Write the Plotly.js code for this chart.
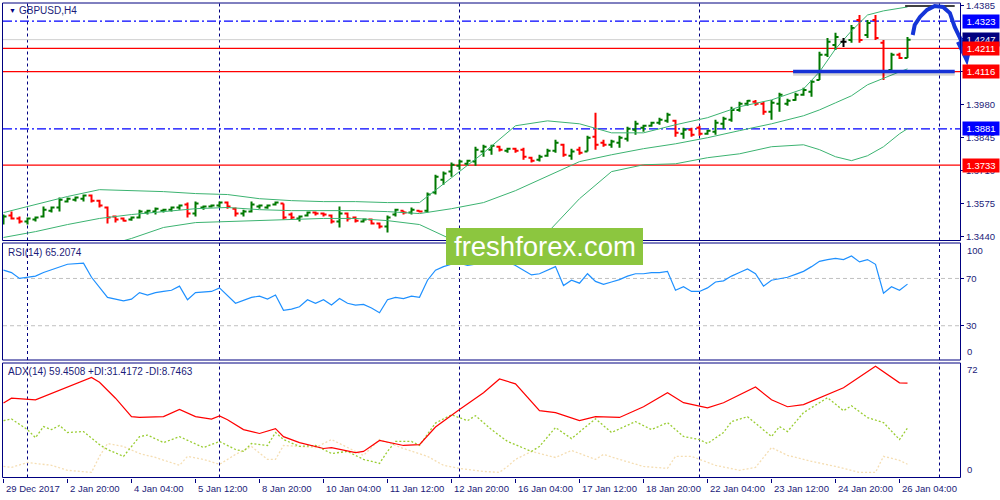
<!DOCTYPE html>
<html><head><meta charset="utf-8">
<script src="https://cdn.plot.ly/plotly-3.0.1.min.js"></script>
<style>html,body{margin:0;padding:0;background:#fff}#chart{width:1000px;height:500px}</style>
</head><body><div id="chart"></div>
<script>
// ---------------- data ----------------
const symbolTitle = 'GBPUSD,H4';
const tickIdx = [0,8,16,24,32,40,48,56,64,72,80,88,96,104,112];
const tickLabels = ['29 Dec 2017','2 Jan 20:00','4 Jan 04:00','5 Jan 12:00','8 Jan 20:00','10 Jan 04:00','11 Jan 12:00','12 Jan 20:00','16 Jan 04:00','17 Jan 12:00','18 Jan 20:00','22 Jan 04:00','23 Jan 12:00','24 Jan 20:00','26 Jan 04:00'];
const separatorIdx = [3,27,57,87,117];

const open = [1.3497,1.3526,1.3514,1.3501,1.3510,1.3522,1.3546,1.3559,1.3583,1.3591,
1.3595,1.3608,1.3587,1.3559,1.3522,1.3514,1.3510,1.3518,1.3538,1.3542,
1.3546,1.3550,1.3559,1.3571,1.3534,1.3559,1.3563,1.3567,1.3579,1.3554,
1.3534,1.3542,1.3563,1.3559,1.3571,1.3575,1.3530,1.3514,1.3526,1.3538,
1.3534,1.3526,1.3501,1.3534,1.3518,1.3501,1.3510,1.3493,1.3481,1.3530,
1.3546,1.3538,1.3546,1.3546,1.3620,1.3673,1.3706,1.3730,1.3738,1.3747,
1.3788,1.3796,1.3808,1.3792,1.3800,1.3796,1.3763,1.3755,1.3771,1.3792,
1.3816,1.3771,1.3796,1.3788,1.3849,1.3824,1.3816,1.3824,1.3841,1.3878,
1.3886,1.3894,1.3906,1.3914,1.3914,1.3861,1.3878,1.3886,1.3861,1.3869,
1.3902,1.3919,1.3959,1.3984,1.3992,1.3984,1.3951,1.3984,1.3984,1.4000,
1.4021,1.4033,1.4082,1.4185,1.4225,1.4238,1.4246,1.4328,1.4266,1.4328,
1.4234,1.4123,1.4185,1.4172];
const high = [1.3530,1.3542,1.3522,1.3518,1.3522,1.3563,1.3563,1.3600,1.3600,1.3604,
1.3612,1.3612,1.3591,1.3563,1.3526,1.3518,1.3522,1.3550,1.3550,1.3559,
1.3554,1.3563,1.3571,1.3579,1.3583,1.3567,1.3571,1.3583,1.3583,1.3559,
1.3550,1.3583,1.3571,1.3571,1.3583,1.3575,1.3538,1.3526,1.3542,1.3542,
1.3538,1.3530,1.3563,1.3538,1.3522,1.3514,1.3514,1.3497,1.3526,1.3554,
1.3546,1.3559,1.3546,1.3620,1.3693,1.3706,1.3743,1.3755,1.3755,1.3808,
1.3816,1.3816,1.3812,1.3804,1.3804,1.3804,1.3767,1.3775,1.3800,1.3837,
1.3820,1.3800,1.3808,1.3853,1.3947,1.3837,1.3837,1.3853,1.3890,1.3914,
1.3898,1.3910,1.3927,1.3947,1.3919,1.3886,1.3886,1.3894,1.3878,1.3919,
1.3931,1.3972,1.3992,1.4000,1.4000,1.3992,1.4000,1.4029,1.4005,1.4029,
1.4050,1.4082,1.4197,1.4254,1.4275,1.4254,1.4307,1.4348,1.4328,1.4348,
1.4246,1.4193,1.4193,1.4258];
const low = [1.3489,1.3510,1.3493,1.3489,1.3501,1.3518,1.3538,1.3542,1.3579,1.3583,
1.3583,1.3579,1.3559,1.3493,1.3497,1.3501,1.3505,1.3514,1.3530,1.3530,
1.3538,1.3542,1.3550,1.3518,1.3522,1.3550,1.3559,1.3559,1.3554,1.3522,
1.3522,1.3538,1.3554,1.3554,1.3567,1.3510,1.3510,1.3501,1.3522,1.3526,
1.3522,1.3493,1.3477,1.3501,1.3497,1.3497,1.3489,1.3473,1.3456,1.3522,
1.3530,1.3530,1.3538,1.3538,1.3612,1.3652,1.3685,1.3714,1.3730,1.3730,
1.3767,1.3775,1.3788,1.3783,1.3783,1.3755,1.3743,1.3747,1.3767,1.3783,
1.3767,1.3755,1.3775,1.3788,1.3796,1.3808,1.3804,1.3804,1.3829,1.3857,
1.3869,1.3890,1.3898,1.3906,1.3849,1.3841,1.3849,1.3853,1.3857,1.3857,
1.3882,1.3910,1.3951,1.3976,1.3976,1.3939,1.3919,1.3951,1.3976,1.3996,
1.4017,1.4013,1.4082,1.4176,1.4205,1.4217,1.4234,1.4234,1.4254,1.4246,
1.4082,1.4115,1.4168,1.4172];
const close = [1.3522,1.3514,1.3501,1.3514,1.3518,1.3550,1.3559,1.3591,1.3595,1.3600,
1.3608,1.3587,1.3567,1.3518,1.3510,1.3505,1.3518,1.3542,1.3546,1.3554,
1.3550,1.3559,1.3567,1.3534,1.3575,1.3563,1.3567,1.3579,1.3563,1.3534,
1.3542,1.3571,1.3567,1.3567,1.3579,1.3518,1.3518,1.3522,1.3538,1.3534,
1.3530,1.3501,1.3534,1.3514,1.3505,1.3510,1.3493,1.3481,1.3518,1.3550,
1.3538,1.3550,1.3542,1.3612,1.3685,1.3698,1.3734,1.3747,1.3751,1.3796,
1.3808,1.3812,1.3796,1.3800,1.3792,1.3767,1.3751,1.3767,1.3792,1.3824,
1.3775,1.3788,1.3783,1.3845,1.3816,1.3816,1.3829,1.3845,1.3882,1.3902,
1.3894,1.3906,1.3919,1.3939,1.3865,1.3878,1.3857,1.3861,1.3874,1.3906,
1.3923,1.3959,1.3984,1.3996,1.3984,1.3951,1.3988,1.4021,1.3996,1.4021,
1.4041,1.4074,1.4185,1.4238,1.4258,1.4238,1.4295,1.4246,1.4315,1.4254,
1.4115,1.4185,1.4172,1.4247];

const bbIdx = [0,4,8,12,16,20,24,28,32,36,40,44,48,52,56,60,64,68,72,76,80,84,88,92,96,100,102,104,106,108,110,112,113];
const bbUpper = [1.3538,1.3571,1.3604,1.3632,1.3628,1.3624,1.3616,1.3612,1.3595,1.3587,1.3583,1.3583,1.3579,1.3579,1.3681,1.3783,1.3894,1.3914,1.3902,1.3865,1.3865,1.3898,1.3927,1.3972,1.4000,1.4045,1.4115,1.4209,1.4283,1.4348,1.4365,1.4377,1.4381];
const bbMiddle = [1.3436,1.3460,1.3489,1.3514,1.3530,1.3542,1.3554,1.3559,1.3550,1.3546,1.3546,1.3546,1.3542,1.3534,1.3554,1.3579,1.3628,1.3689,1.3747,1.3775,1.3800,1.3820,1.3845,1.3874,1.3902,1.3935,1.3959,1.3988,1.4017,1.4062,1.4090,1.4115,1.4127];
const bbLower = [1.3334,1.3350,1.3375,1.3395,1.3432,1.3477,1.3497,1.3501,1.3505,1.3510,1.3514,1.3514,1.3505,1.3489,1.3428,1.3375,1.3362,1.3456,1.3595,1.3706,1.3734,1.3738,1.3763,1.3779,1.3808,1.3816,1.3796,1.3767,1.3751,1.3771,1.3808,1.3861,1.3882];

const rsiIdx = [0,1,2,4,5,7,8,10,11,13,14,15,16,17,18,19,20,21,22,23,24,26,27,29,31,
32,33,34,35,36,37,38,39,40,41,42,43,44,45,46,47,48,49,50,51,52,53,54,55,56,57,58,59,60,61,
62,63,64,65,66,67,68,69,70,71,72,73,74,75,76,77,78,79,80,81,82,83,84,85,86,87,88,89,90,91,
92,93,94,95,96,97,98,99,100,101,102,103,104,105,106,107,108,109,110,111,112,113];
const rsiVal = [77,75,70,72,75,80,82,83,71,54,52.5,51,52.5,58,56,58,59,60,63.5,52,58,59,62,49,54,
55,52.5,56,43,44,46,52,49,52,47.5,53,49,47.5,48,45,41,52,54,53,55,54,68.5,77,80,82,83,81,82,84,84,
83,84,81,77,73,74,77,80,64,68.5,66,74,67.5,65,67,69,72,74,74,75,75,76,60,63,59,59,62,67,68,72,
75,78,74,63.5,68.5,70,71,73.5,76,80,84.5,86,87,86,89,84,86,82,57.5,63,60,65.2];

const adxIdx = [0,1,4,6,8,11,12,14,16,17,20,22,24,26,27,28,30,32,34,35,37,40,41,44,45,47,50,52,54,57,60,62,64,67,69,72,74,77,80,83,85,88,90,94,96,98,100,105,109,112,113];
const adxVal = [47,50,49,53,57,63,60,50,38.5,38,38.5,43,38.5,37,39,36.6,30.4,28,31,26,22.3,18.6,19.2,16.1,16.8,23.6,20.5,21,32,43,53.4,62,59,42.2,41,36,38.5,38,44.7,53.4,47.2,44,47.2,57,49,44.7,46,56.5,70,59.6,59.45];
const pdiIdx = [0,1,3,4,5,6,7,8,10,12,13,15,17,18,20,22,25,27,29,30,31,33,34,35,37,39,41,43,45,47,48,49,51,52,54,56,58,59,61,63,66,67,69,71,74,76,79,81,83,85,87,88,90,91,93,96,97,98,100,102,103,105,106,108,110,112,113];
const pdiVal = [36,37,30.4,25.4,32.3,30.4,33,28.6,29.2,21,18,13.7,26,27,22.3,26,19.2,23,18,16.8,21.7,20.5,28.6,24.2,19.9,20.5,15.5,16.8,11.8,9.3,16.8,23,23,20.5,34.5,39.7,36,39.1,30.4,23,16.8,19.9,31.7,24.8,37.2,28.6,35.4,30.4,34.8,26.1,24.2,21.7,28.6,35.4,38.5,26.1,32.3,29.2,41,47.2,50.3,42.2,45.3,37.9,34.8,24.2,31.4];
const mdiIdx = [0,1,3,6,8,11,12,13,15,17,19,22,23,25,27,29,31,33,34,35,37,39,41,43,45,47,48,50,53,55,57,60,62,63,64,66,69,71,74,75,77,80,83,84,86,89,92,94,96,98,101,104,107,109,110,112,113];
const mdiVal = [7.4,6.8,9.9,8.1,5,3.7,13.7,21.7,19.9,15.5,13,8.1,13.7,11.8,8.7,14.9,19.9,11.8,11.8,20.5,19.9,19.2,24.2,19.2,14.3,24.2,22.3,18.6,13.7,8.1,6.2,4.3,3.7,7.4,11.8,16.8,13,17.4,11.8,14.9,11.8,7.4,6.2,13.7,13.7,8.1,5,6.8,19.2,14.3,10.6,7.4,3.7,3.7,13.7,11.2,8.75];

const priceTicks = [1.3440,1.3575,1.3710,1.3845,1.3980,1.4115,1.4250,1.4385];
const levelPrices = [1.4323,1.4247,1.4211,1.4116,1.3881,1.3733];
const levelKinds  = ['blueDash','bid','red','red','blueDash','red'];
const labelPrices = [1.4323,1.4247,1.4211,1.4116,1.3881,1.3733];
const labelColors = ['#0000ff','#000080','#ff0000','#ff0000','#0000ff','#ff0000'];
const rsiLevels = [30,70];
const supportLine = {from:98.7, to:118.9, price:1.4116};
const topLine = {from:112.7, to:118.9, price:1.4385};
const arrowCurve = [[113.65,1.4266],[113.9,1.4307],[114.56,1.4340],[115.44,1.4369],[116.4,1.4385],[117.44,1.4381],[118.3,1.4356],[118.9,1.4299],[119.56,1.4254],[120.2,1.4205],[120.4,1.4168]];
const arrowHead = [[119.3,1.4238],[120.4,1.4164],[120.9,1.4230]];
const rsiText = 'RSI(14) 65.2074';
const adxText = 'ADX(14) 59.4508 +DI:31.4172 -DI:8.7463';
const watermark = 'freshforex.com';

// ---------------- layout geometry ----------------
const W=1000,H=500, ML=3, MR=40, MT=3, MB=22;
const PW=W-ML-MR, PH=H-MT-MB;
const pxX = x => (x-ML)/PW;
const pxY = y => (H-MB-y)/PH;
const xRange = [-0.0625, -0.0625 + PW/8];
const mainDom = [pxY(240.5), pxY(3)], rsiDom = [pxY(360), pxY(243)], adxDom = [pxY(477.5), pxY(363)];
const mainRange = [1.342359, 1.439723];
const rsiRange = [1, 100];
const adxRange = [0.5, 72];
const NAVY = '#000080', TXT = '#1b1b78';
const FONT = 'Liberation Sans, Arial, sans-serif';
const idxToPaper = i => (i - xRange[0])/(xRange[1]-xRange[0]);
const priceToPaper = p => mainDom[0] + (p-mainRange[0])/(mainRange[1]-mainRange[0])*(mainDom[1]-mainDom[0]);

// ---------------- traces ----------------
const traces = [];
const bx=[],bo=[],bh=[],bl=[],bc=[], dx=[], dy=[];
for (let i=0;i<open.length;i++){
  if (open[i]===close[i]) {
    dx.push(i-0.38,i,null,i,i,null,i,i+0.38,null);
    dy.push(open[i],open[i],null,high[i],low[i],null,close[i],close[i],null);
  } else { bx.push(i); bo.push(open[i]); bh.push(high[i]); bl.push(low[i]); bc.push(close[i]); }
}
traces.push({type:'scatter',mode:'lines',x:bbIdx,y:bbUpper,line:{color:'#3cb371',width:1},hoverinfo:'skip',xaxis:'x',yaxis:'y'});
traces.push({type:'scatter',mode:'lines',x:bbIdx,y:bbMiddle,line:{color:'#3cb371',width:1},hoverinfo:'skip',xaxis:'x',yaxis:'y'});
traces.push({type:'scatter',mode:'lines',x:bbIdx,y:bbLower,line:{color:'#3cb371',width:1},hoverinfo:'skip',xaxis:'x',yaxis:'y'});
traces.push({type:'ohlc',x:bx,open:bo,high:bh,low:bl,close:bc,tickwidth:0.38,
  increasing:{line:{color:'#007800',width:2}},decreasing:{line:{color:'#ff0000',width:2}},
  hoverinfo:'skip',xaxis:'x',yaxis:'y'});
traces.push({type:'scatter',mode:'lines',x:dx,y:dy,line:{color:'#000000',width:2},hoverinfo:'skip',xaxis:'x',yaxis:'y'});
traces.push({type:'scatter',mode:'lines',x:rsiIdx,y:rsiVal,line:{color:'#1e90ff',width:1.2},hoverinfo:'skip',xaxis:'x',yaxis:'y2'});
traces.push({type:'scatter',mode:'lines',x:mdiIdx,y:mdiVal,line:{color:'#f5deb3',width:1.3,dash:'2px,2px'},hoverinfo:'skip',xaxis:'x',yaxis:'y3'});
traces.push({type:'scatter',mode:'lines',x:pdiIdx,y:pdiVal,line:{color:'#9acd32',width:1.3,dash:'2px,2px'},hoverinfo:'skip',xaxis:'x',yaxis:'y3'});
traces.push({type:'scatter',mode:'lines',x:adxIdx,y:adxVal,line:{color:'#ff0000',width:1.2},hoverinfo:'skip',xaxis:'x',yaxis:'y3'});

// ---------------- shapes ----------------
const shapes = [];
['y','y2','y3'].forEach(ax=>{
  separatorIdx.forEach(s=>shapes.push({type:'line',xref:'x',yref:ax+' domain',x0:s,x1:s,y0:0,y1:1,layer:'below',line:{color:NAVY,width:1,dash:'3px,3px'}}));
});
levelPrices.forEach((p,k)=>{
  const kind=levelKinds[k];
  let line;
  if(kind==='blueDash') line={color:'#0000ff',width:1.2,dash:'9px,3px,2px,3px'};
  else if(kind==='bid') line={color:'#d0d0d0',width:1};
  else line={color:'#ff0000',width:1.2};
  shapes.push({type:'line',xref:'x domain',yref:'y',x0:0,x1:1,y0:p,y1:p,layer:'below',line});
});
rsiLevels.forEach(v=>shapes.push({type:'line',xref:'x domain',yref:'y2',x0:0,x1:1,y0:v,y1:v,layer:'below',line:{color:'#c0c0c0',width:1,dash:'4px,3px'}}));
shapes.push({type:'line',xref:'x',yref:'y',x0:supportLine.from,x1:supportLine.to,y0:supportLine.price-0.0007,y1:supportLine.price-0.0007,line:{color:'rgba(0,0,0,0.16)',width:5}});
shapes.push({type:'line',xref:'x',yref:'y',x0:supportLine.from,x1:supportLine.to,y0:supportLine.price,y1:supportLine.price,line:{color:'#1632d6',width:3.5}});
shapes.push({type:'line',xref:'x',yref:'y',x0:topLine.from,x1:topLine.to,y0:topLine.price,y1:topLine.price,line:{color:'#000000',width:1.5}});
const toPath = pts => pts.map((pt,j)=>(j?'L':'M')+idxToPaper(pt[0]).toFixed(5)+','+priceToPaper(pt[1]).toFixed(5)).join(' ');
shapes.push({type:'path',xref:'paper',yref:'paper',path:toPath(arrowCurve),line:{color:'#1535d8',width:4}});
shapes.push({type:'path',xref:'paper',yref:'paper',path:toPath(arrowHead),line:{color:'#1535d8',width:4}});
[mainDom,rsiDom,adxDom].forEach(d=>shapes.push({type:'rect',xref:'paper',yref:'paper',x0:pxX(2.5),x1:pxX(960.5),y0:d[0],y1:d[1],line:{color:NAVY,width:1}}));
shapes.push({type:'rect',xref:'paper',yref:'paper',x0:pxX(446),x1:pxX(643),y0:pxY(265),y1:pxY(228),fillcolor:'#8cc63f',line:{width:0}});

// ---------------- annotations ----------------
const ann = [];
const tf = {family:FONT,size:9.5,color:TXT};
tickIdx.forEach((t,k)=>ann.push({xref:'x',yref:'paper',x:t,y:pxY(488),xanchor:'left',yanchor:'middle',xshift:0,text:tickLabels[k],showarrow:false,font:tf}));
ann.push({xref:'paper',yref:'paper',x:pxX(7),y:pxY(10),xanchor:'left',yanchor:'middle',text:'▼',showarrow:false,font:{family:FONT,size:7,color:NAVY}});
ann.push({xref:'paper',yref:'paper',x:pxX(17),y:pxY(10),xanchor:'left',yanchor:'middle',text:symbolTitle,showarrow:false,font:{family:FONT,size:10,color:TXT}});
ann.push({xref:'paper',yref:'paper',x:pxX(6),y:pxY(252),xanchor:'left',yanchor:'middle',text:rsiText,showarrow:false,font:{family:FONT,size:10,color:TXT}});
ann.push({xref:'paper',yref:'paper',x:pxX(6),y:pxY(371),xanchor:'left',yanchor:'middle',text:adxText,showarrow:false,font:{family:FONT,size:10,color:TXT}});
ann.push({xref:'paper',yref:'y2',x:1,y:rsiRange[1],xanchor:'left',yanchor:'top',xshift:5,yshift:0,text:'100',showarrow:false,font:tf});
ann.push({xref:'paper',yref:'y2',x:1,y:rsiRange[0],xanchor:'left',yanchor:'bottom',xshift:5,yshift:1,text:'0',showarrow:false,font:tf});
ann.push({xref:'paper',yref:'y3',x:1,y:adxRange[1],xanchor:'left',yanchor:'top',xshift:5,yshift:1,text:'72',showarrow:false,font:tf});
ann.push({xref:'paper',yref:'y3',x:1,y:adxRange[0],xanchor:'left',yanchor:'bottom',xshift:5,yshift:1,text:'0',showarrow:false,font:tf});
labelPrices.forEach((p,k)=>ann.push({xref:'paper',yref:'y',x:1,y:p,xanchor:'left',yanchor:'middle',xshift:2,text:p.toFixed(4),showarrow:false,
  bgcolor:labelColors[k],borderpad:1,width:34,align:'center',font:{family:FONT,size:9.5,color:'#ffffff'}}));
ann.push({xref:'paper',yref:'paper',x:pxX(544.5),y:pxY(246.5),xanchor:'center',yanchor:'middle',text:watermark,showarrow:false,font:{family:FONT,size:27.5,color:'#ffffff'}});

const yCommon = {side:'right',anchor:'x',showgrid:false,zeroline:false,showline:false,ticks:'outside',ticklen:3,tickcolor:NAVY,tickfont:tf,fixedrange:true};
const layout = {
  width:W,height:H,margin:{l:ML,r:MR,t:MT,b:MB},paper_bgcolor:'#ffffff',plot_bgcolor:'#ffffff',showlegend:false,
  xaxis:{range:xRange,anchor:'y3',showgrid:false,zeroline:false,showline:false,tickmode:'array',tickvals:tickIdx,ticktext:tickLabels,showticklabels:false,ticks:'outside',ticklen:4,tickcolor:NAVY,rangeslider:{visible:false},fixedrange:true},
  yaxis:Object.assign({},yCommon,{domain:mainDom,range:mainRange,tickmode:'array',tickvals:priceTicks,ticktext:priceTicks.map(v=>v.toFixed(4))}),
  yaxis2:Object.assign({},yCommon,{domain:rsiDom,range:rsiRange,tickmode:'array',tickvals:rsiLevels,ticktext:rsiLevels.map(String)}),
  yaxis3:Object.assign({},yCommon,{domain:adxDom,range:adxRange,tickmode:'array',tickvals:[],ticktext:[]}),
  shapes:shapes,annotations:ann,hovermode:false
};
Plotly.newPlot('chart',traces,layout,{staticPlot:true,displayModeBar:false});
</script></body></html>
